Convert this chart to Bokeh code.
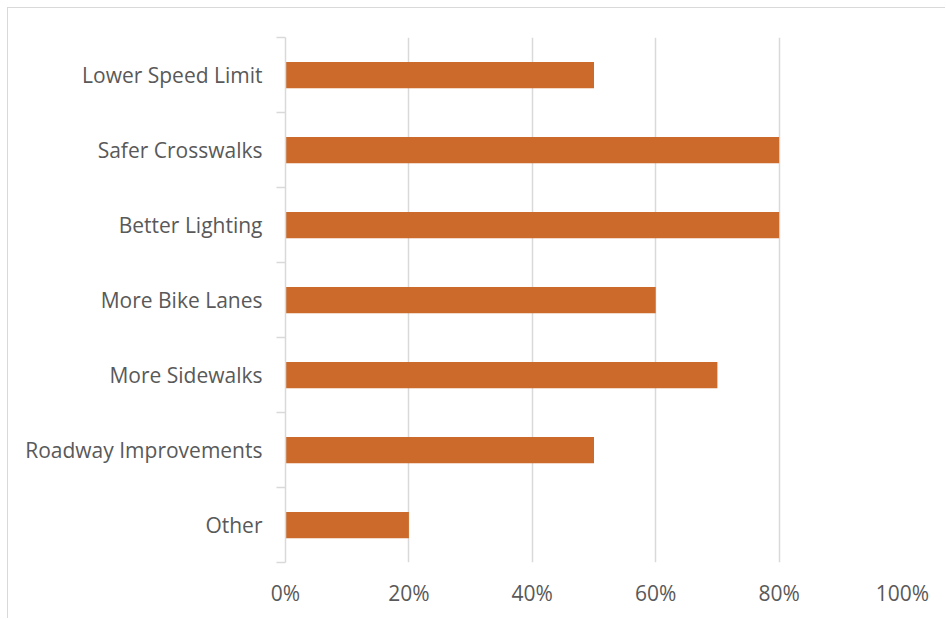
from bokeh.plotting import figure
from bokeh.models import Range1d, FixedTicker, NumeralTickFormatter
from bokeh.embed import file_html
from bokeh.resources import INLINE

categories = ["Lower Speed Limit", "Safer Crosswalks", "Better Lighting", "More Bike Lanes",
              "More Sidewalks", "Roadway Improvements", "Other"]
values = [0.50, 0.80, 0.80, 0.60, 0.70, 0.50, 0.20]
x_ticks = [0, 0.2, 0.4, 0.6, 0.8, 1.0]

n = len(categories)
ypos = list(range(n))

p = figure(width=938, height=611, output_backend="svg", toolbar_location=None,
           x_range=Range1d(0, 1), y_range=Range1d(n - 0.5, -0.5),
           min_border_left=277, min_border_right=44, min_border_top=29, min_border_bottom=57)
p.margin = (7, 0, 0, 7)
p.styles = {"border-left": "1px solid #d9d9d9", "border-top": "1px solid #d9d9d9"}
p.outline_line_color = None
p.background_fill_color = "white"

p.hbar(y=ypos, right=values, left=0, height=0.35, color="#CB6A2A", line_color=None)

font = "Open Sans"
lab_color = "#595959"
fsize = "21px"

# x axis
xa = p.xaxis[0]
xa.ticker = FixedTicker(ticks=x_ticks)
xa.formatter = NumeralTickFormatter(format="0%")
xa.axis_line_color = None
xa.major_tick_line_color = None
xa.minor_tick_line_color = None
xa.major_tick_out = 0
xa.minor_tick_out = 0
xa.major_label_standoff = 16
xa.major_label_text_font = font
xa.major_label_text_font_size = fsize
xa.major_label_text_color = lab_color

# y axis
ya = p.yaxis[0]
ya.ticker = FixedTicker(ticks=ypos, minor_ticks=[i - 0.5 for i in range(n + 1)])
ya.major_label_overrides = {i: c for i, c in enumerate(categories)}
ya.axis_line_color = "#d9d9d9"
ya.axis_line_width = 1.5
ya.major_tick_line_color = None
ya.major_tick_out = 0
ya.minor_tick_line_color = "#d9d9d9"
ya.minor_tick_line_width = 1.5
ya.minor_tick_out = 9
ya.minor_tick_in = 0
ya.major_label_standoff = 14
ya.major_label_text_font = font
ya.major_label_text_font_size = fsize
ya.major_label_text_color = lab_color

p.xgrid.grid_line_color = "#d9d9d9"
p.xgrid.grid_line_width = 1.5
p.xgrid.ticker = FixedTicker(ticks=x_ticks)
p.ygrid.grid_line_color = None

open("out.html", "w").write(file_html(p, INLINE))
